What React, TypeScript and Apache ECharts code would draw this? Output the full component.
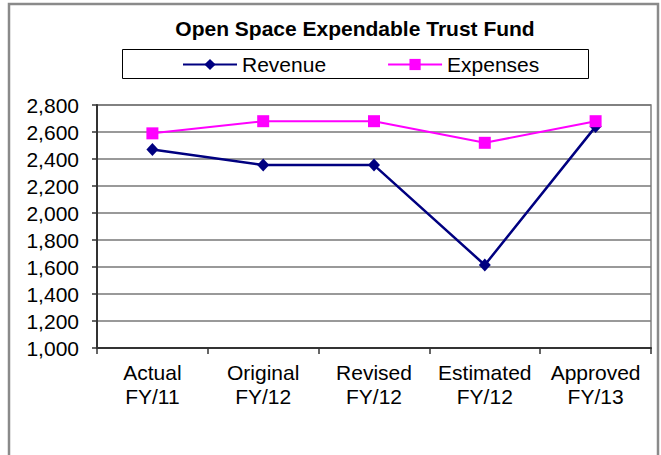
import React, { useEffect, useRef } from 'react';
import * as echarts from 'echarts';

const categories = ['Actual\nFY/11', 'Original\nFY/12', 'Revised\nFY/12', 'Estimated\nFY/12', 'Approved\nFY/13'];
const revenue = [2470, 2355, 2355, 1615, 2640];
const expenses = [2590, 2680, 2680, 2520, 2680];
const yMin = 1000;
const yMax = 2800;
const yStep = 200;
const titleText = 'Open Space Expendable Trust Fund';

export default function App() {
  const ref = useRef<HTMLDivElement>(null);
  useEffect(() => {
    const chart = echarts.init(ref.current as HTMLDivElement, null, { renderer: 'svg' });
    const font = '"Liberation Sans", Arial, sans-serif';
    chart.setOption({
      animation: false,
      backgroundColor: '#ffffff',
      textStyle: { fontFamily: font },
      graphic: [
        {
          type: 'rect',
          silent: true,
          z: -1,
          shape: { x: 9, y: 4, width: 649, height: 470 },
          style: { fill: 'none', stroke: '#8a8a8a', lineWidth: 2.5 },
        },
        {
          type: 'text',
          x: 355,
          y: 28,
          style: {
            text: titleText,
            font: 'bold 21px "Liberation Sans", Arial, sans-serif',
            fill: '#000',
            textAlign: 'center',
            textVerticalAlign: 'middle',
          },
        },
        {
          type: 'rect',
          silent: true,
          shape: { x: 122.5, y: 49.5, width: 466, height: 29 },
          style: { fill: 'none', stroke: '#000', lineWidth: 1 },
        },
      ],
      legend: {
        left: 182,
        top: 54,
        padding: 0,
        itemWidth: 54,
        itemHeight: 14,
        itemGap: 61,
        textStyle: { fontSize: 21, color: '#000', fontFamily: font },
        data: ['Revenue', 'Expenses'],
      },
      grid: {
        left: 97,
        right: 10,
        top: 105,
        bottom: 107,
        containLabel: false,
        outerBoundsMode: 'none',
        show: true,
        borderColor: '#808080',
        borderWidth: 1.5,
      },
      xAxis: {
        type: 'category',
        data: categories,
        boundaryGap: true,
        axisLine: { lineStyle: { color: '#333', width: 2 } },
        axisTick: { show: true, length: 6, lineStyle: { color: '#333', width: 1.5 } },
        axisLabel: { fontSize: 21, color: '#000', margin: 12, lineHeight: 24, interval: 0, fontFamily: font },
        splitLine: { show: false },
      },
      yAxis: {
        type: 'value',
        min: yMin,
        max: yMax,
        interval: yStep,
        axisLine: { show: true, lineStyle: { color: '#333', width: 2 } },
        axisTick: { show: true, length: 5, lineStyle: { color: '#333', width: 1.5 } },
        axisLabel: {
          fontSize: 21,
          color: '#000',
          margin: 18,
          fontFamily: font,
          formatter: (v: number) => v.toLocaleString('en-US'),
        },
        splitLine: { show: true, lineStyle: { color: '#777', width: 1.5 } },
      },
      series: [
        {
          name: 'Revenue',
          type: 'line',
          data: revenue,
          symbol: 'diamond',
          symbolSize: [12, 13],
          lineStyle: { color: '#000080', width: 2.5 },
          itemStyle: { color: '#000080' },
        },
        {
          name: 'Expenses',
          type: 'line',
          data: expenses,
          symbol: 'rect',
          symbolSize: 12,
          lineStyle: { color: '#FF00FF', width: 2 },
          itemStyle: { color: '#FF00FF' },
        },
      ],
    });
    return () => chart.dispose();
  }, []);
  return <div ref={ref} style={{ position: 'absolute', left: 0, top: 0, width: 661, height: 455 }} />;
}
